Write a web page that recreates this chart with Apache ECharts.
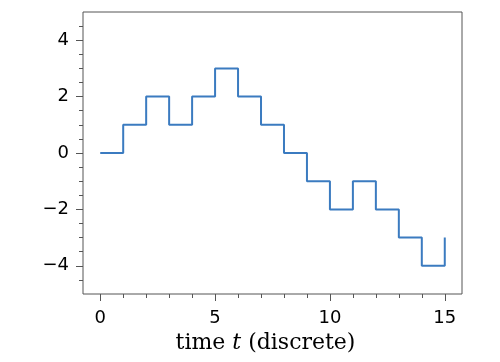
<!DOCTYPE html>
<html>
<head>
<meta charset="utf-8">
<script src="https://cdn.jsdelivr.net/npm/echarts@6/dist/echarts.min.js"></script>
<style>
html,body{margin:0;padding:0;background:#fff;}
#c{width:500px;height:362px;}
</style>
</head>
<body>
<div id="c"></div>
<script>
var times = [0,1,2,3,4,5,6,7,8,9,10,11,12,13,14,15];
var values = [0,1,2,1,2,3,2,1,0,-1,-2,-1,-2,-3,-4,-3];
var xMajorTicks = [0,5,10,15];
var xMinorTicks = [0,1,2,3,4,5,6,7,8,9,10,11,12,13,14,15];
var yMajorTicks = [-4,-2,0,2,4];
var yMinorTicks = [-4.5,-4,-3.5,-3,-2.5,-2,-1.5,-1,-0.5,0,0.5,1,1.5,2,2.5,3,3.5,4,4.5];

var axisColor = '#555';
var chart = echarts.init(document.getElementById('c'), null, {renderer:'canvas'});
function fmt(v){ return (v < 0 ? '\u2212' + Math.abs(v) : String(v)); }
chart.setOption({
  animation: false,
  grid: {left: 83, top: 12, right: 38, bottom: 68, show: true, borderColor: axisColor, borderWidth: 1},
  xAxis: [
    {
      type: 'value', min: -0.75, max: 15.75,
      axisLine: {show: false, onZero: false},
      splitLine: {show: false},
      axisTick: {show: true, length: 7, lineStyle: {color: axisColor, width: 1}, customValues: xMajorTicks},
      axisLabel: {show: true, customValues: xMajorTicks, formatter: fmt, margin: 15,
        fontFamily: 'DejaVu Sans', fontSize: 18, color: '#000', showMinLabel: true, showMaxLabel: true},
      name: '{a|time }{b|t}{a| (discrete)}',
      nameLocation: 'middle', nameGap: 37,
      nameTextStyle: {
        padding: [0, 14, 0, 0],
        rich: {
          a: {fontFamily: 'DejaVu Serif', fontSize: 22, color: '#000'},
          b: {fontFamily: 'DejaVu Serif', fontStyle: 'italic', fontSize: 22, color: '#000'}
        }
      }
    },
    {
      type: 'value', min: -0.75, max: 15.75, position: 'bottom',
      axisLine: {show: false, onZero: false}, splitLine: {show: false},
      axisTick: {show: true, length: 4, lineStyle: {color: axisColor, width: 1}, customValues: xMinorTicks},
      axisLabel: {show: false}
    }
  ],
  yAxis: [
    {
      type: 'value', min: -5, max: 5,
      axisLine: {show: false, onZero: false},
      splitLine: {show: false},
      axisTick: {show: true, length: 7, lineStyle: {color: axisColor, width: 1}, customValues: yMajorTicks},
      axisLabel: {show: true, customValues: yMajorTicks, formatter: fmt, margin: 14,
        fontFamily: 'DejaVu Sans', fontSize: 18, color: '#000'}
    },
    {
      type: 'value', min: -5, max: 5, position: 'left',
      axisLine: {show: false, onZero: false}, splitLine: {show: false},
      axisTick: {show: true, length: 4, lineStyle: {color: axisColor, width: 1}, customValues: yMinorTicks},
      axisLabel: {show: false}
    }
  ],
  series: [{
    type: 'line',
    step: 'end',
    data: times.map(function(t, i){ return [t, values[i]]; }),
    showSymbol: false,
    symbol: 'none',
    lineStyle: {color: '#3b7bc0', width: 2},
    xAxisIndex: 0, yAxisIndex: 0
  }]
});
</script>
</body>
</html>
